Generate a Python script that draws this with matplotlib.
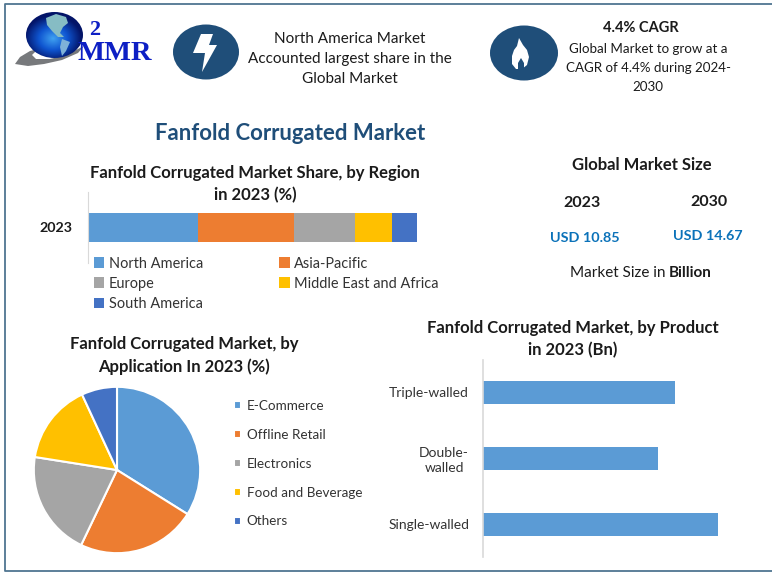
"""
Fanfold Corrugated Market infographic
"""

import numpy as np
import matplotlib
matplotlib.use('Agg')
import matplotlib.pyplot as plt
from matplotlib.colors import LinearSegmentedColormap
from matplotlib.patches import Ellipse, Polygon

plt.rcParams['font.family'] = ['Lato', 'DejaVu Sans']

# chart data
year = '2023'
regions = ['North America', 'Asia-Pacific', 'Europe', 'Middle East and Africa', 'South America']
region_share = [33.4, 29.1, 18.7, 11.3, 7.5]

applications = ['E-Commerce', 'Offline Retail', 'Electronics', 'Food and Beverage', 'Others']
application_share = [33.9, 23.2, 20.4, 15.6, 6.9]

products = ['Single-walled', 'Double-\nwalled', 'Triple-walled']
product_size = [4.24, 3.15, 3.46]

colors = ['#5B9BD5', '#ED7D31', '#A5A5A5', '#FFC000', '#4472C4']
W, H = 772, 576
DARK = '#1B1B1B'
NAVY = '#1F4E79'


def axes_px(fig, left, top, width, height):
    # make an axes from pixel values measured from the top left corner
    return fig.add_axes([left / W, 1 - (top + height) / H, width / W, height / H])


fig = plt.figure(figsize=(W / 100, H / 100), dpi=100)

# background layer in pixel coordinates for the frame, logo, icons and text
bg = fig.add_axes([0, 0, 1, 1])
bg.set_xlim(0, W)
bg.set_ylim(H, 0)
bg.axis('off')

bg.plot([W, 5, 5, W], [4, 4, 571, 571], color='#4F7591', lw=1.3)

# logo: swoosh, globe, continents and the lettering
bg.add_patch(Polygon([[15, 64], [20, 57], [30, 51], [38, 49], [32, 55], [36, 59], [50, 59],
                      [66, 55], [84, 46], [78, 53], [62, 60], [44, 64], [28, 66]],
                     closed=True, fc='#77797C', ec='none'))
yy, xx = np.mgrid[-1:1:120j, -1:1:120j]
shade = np.clip(np.hypot(xx + 0.05, yy - 0.15), 0, 1)
globe_cmap = LinearSegmentedColormap.from_list('globe', ['#3FA0F0', '#0F55D0', '#031468'])
globe = bg.imshow(shade, extent=[26, 83, 58, 12], cmap=globe_cmap, zorder=2, aspect='auto')
globe.set_clip_path(Ellipse((54.5, 35), 57, 46, transform=bg.transData))
bg.set_xlim(0, W)
bg.set_ylim(H, 0)
bg.add_patch(Polygon([[46, 18], [56, 14], [66, 17], [68, 23], [63, 27], [60, 33], [64, 37], [58, 37],
                      [52, 31], [47, 25]], closed=True, fc='#86BCC4', ec='none', zorder=3))
bg.add_patch(Polygon([[62, 39], [70, 42], [66, 51], [62, 56], [60, 47]], closed=True, fc='#7FB2D8',
                     ec='none', zorder=3))
bg.text(95, 30, '2', color='#0D1FC4', fontsize=16, family='Liberation Serif', weight='bold',
        ha='center', va='center', zorder=4)
bg.text(115, 53, 'MMR', color='#0D1FC4', fontsize=20.5, family='Liberation Serif', weight='bold',
        ha='center', va='center', zorder=5)

# lightning icon
bg.add_patch(Ellipse((206, 52), 66, 55, fc=NAVY, ec='none'))
bg.add_patch(Polygon([[201, 34], [213, 34], [209, 45], [217, 45], [202, 72], [205, 53], [193, 53]],
                     closed=True, fc='white', ec='none'))

# flame icon
bg.add_patch(Ellipse((524, 53), 68, 55, fc=NAVY, ec='none'))
bg.add_patch(Polygon([[519, 38], [523, 45], [527, 50], [529, 57], [527, 65], [522, 69], [516, 69],
                      [512, 64], [512, 56], [514, 50], [517, 46]], closed=True, fc='white', ec='none'))
bg.add_patch(Polygon([[521, 58], [524, 63], [524, 69], [518, 69], [518, 63]], closed=True, fc=NAVY, ec='none'))

# header text
for y, line in zip([39, 59, 79], ['North America Market', 'Accounted largest share in the', 'Global Market']):
    bg.text(350, y, line, ha='center', va='center', fontsize=11, color=DARK)
bg.text(641, 28, '4.4% CAGR', ha='center', va='center', fontsize=10.5, weight='bold', color=DARK)
for y, line in zip([49, 68, 87], ['Global Market to grow at a', 'CAGR of 4.4% during 2024-', '2030']):
    bg.text(648, y, line, ha='center', va='center', fontsize=9.6, color=DARK)

bg.text(290, 133, 'Fanfold Corrugated Market', ha='center', va='center', fontsize=15.9, weight='bold', color=NAVY)

# market size block
bg.text(642, 165, 'Global Market Size', ha='center', va='center', fontsize=12, weight='bold', color=DARK)
bg.text(582, 203, '2023', ha='center', va='center', fontsize=11.5, weight='bold', color=DARK)
bg.text(709, 202, '2030', ha='center', va='center', fontsize=11.5, weight='bold', color=DARK)
bg.text(585, 238, 'USD 10.85', ha='center', va='center', fontsize=10.4, weight='bold', color='#0B72B9')
bg.text(708, 236, 'USD 14.67', ha='center', va='center', fontsize=10.4, weight='bold', color='#0B72B9')
bg.text(669, 273, 'Market Size in ', ha='right', va='center', fontsize=11, color=DARK)
bg.text(669, 273, 'Billion', ha='left', va='center', fontsize=11, weight='bold', color=DARK)

# chart titles
for x, ys, lines in [(255, [173, 195], ['Fanfold Corrugated Market Share, by Region', 'in 2023 (%)']),
                     (184, [344, 367], ['Fanfold Corrugated Market, by', 'Application In 2023 (%)']),
                     (573, [328, 350], ['Fanfold Corrugated Market, by Product', 'in 2023 (Bn)'])]:
    for y, line in zip(ys, lines):
        bg.text(x, y, line, ha='center', va='center', fontsize=11.95, weight='bold', color=DARK)

# stacked bar of the regions
ax1 = axes_px(fig, 87.5, 192, 329.6, 71)
ax1.patch.set_alpha(0)
left = 0
handles = []
for name, share, color in zip(regions, region_share, colors):
    handles.append(ax1.barh(0, share, left=left, height=0.4, color=color, label=name)[0])
    left += share
ax1.set_xlim(0, 100)
ax1.set_ylim(-0.5, 0.5)
ax1.set_xticks([])
ax1.set_yticks([0])
ax1.set_yticklabels([year], fontsize=10.3, weight='bold', color=DARK)
ax1.tick_params(axis='y', length=0, pad=10.5)
for side in ['top', 'right', 'bottom']:
    ax1.spines[side].set_visible(False)
ax1.spines['left'].set_color('#D9D9D9')

order = [0, 2, 4, 1, 3]
ax1.legend([handles[i] for i in order], [regions[i] for i in order], ncols=2,
           loc='upper left', bbox_to_anchor=(6 / 329.6, 0.09), frameon=False, fontsize=10.45,
           labelcolor='#333333', handlelength=0.75, handleheight=0.75, handletextpad=0.3,
           labelspacing=0.43, columnspacing=5.22, borderpad=0, borderaxespad=0)

# pie of the applications
ax2 = axes_px(fig, 33, 386, 168, 168)
wedges, _ = ax2.pie(application_share, colors=colors, startangle=90, counterclock=False, radius=1,
                    wedgeprops={'edgecolor': 'white', 'linewidth': 1.5})
ax2.set_xlim(-1.01, 1.01)
ax2.set_ylim(-1.01, 1.01)
ax2.legend(wedges, applications, loc='upper left', bbox_to_anchor=(201 / 168, 0.918), frameon=False,
           fontsize=9.75, labelcolor='#333333', handlelength=0.55, handleheight=0.55, handletextpad=0.4,
           labelspacing=1.25, borderpad=0, borderaxespad=0)

# horizontal bars of the products
ax3 = axes_px(fig, 483, 360, 250, 197)
ax3.patch.set_alpha(0)
ax3.barh(range(len(products)), product_size, height=0.35, color=colors[0])
ax3.set_xlim(0, 4.51)
ax3.set_ylim(-0.495, 2.49)
ax3.set_xticks([])
ax3.set_yticks(range(len(products)))
ax3.set_yticklabels(products, fontsize=10, color='#333333', multialignment='center', linespacing=1.25)
ax3.tick_params(axis='y', length=0, pad=10)
for side in ['top', 'right', 'bottom']:
    ax3.spines[side].set_visible(False)
ax3.spines['left'].set_color('#D9D9D9')
ax3.spines['left'].set_linewidth(1.2)

fig.savefig('out.png', dpi=100)
